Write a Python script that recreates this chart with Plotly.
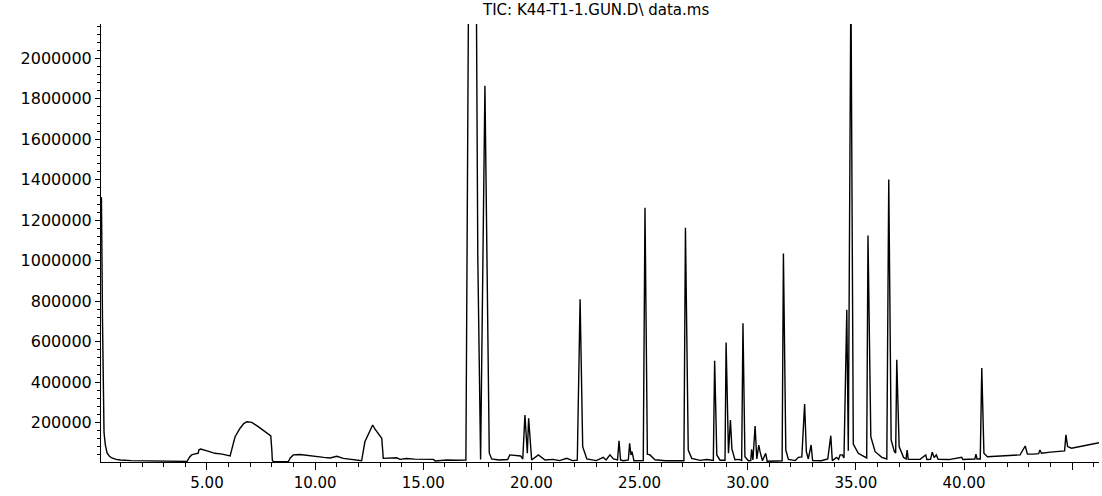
import plotly.graph_objects as go

# Retention time (min) and abundance
time_min = [
    0.10, 0.12, 0.17, 0.21, 0.24, 0.30, 0.38, 0.48, 0.60, 0.80, 1.00, 1.50, 2.00, 2.50, 3.00, 3.50, 4.00,
    4.08, 4.20, 4.29, 4.45, 4.59, 4.63, 4.71, 5.00, 5.37, 5.70, 5.91, 6.07, 6.20, 6.30, 6.53, 6.70, 6.84,
    7.07, 7.37, 7.70, 7.95, 8.00, 8.02, 8.07, 8.50, 8.76, 8.85, 8.99, 9.30, 9.76, 10.06, 10.40, 10.69,
    11.00, 11.30, 11.70, 12.08, 12.15, 12.30, 12.54, 12.66, 12.77, 12.90, 13.08, 13.15, 13.46, 13.77,
    13.92, 14.23, 14.60, 15.00, 15.47, 15.55, 16.08, 16.50, 16.93,
    16.97, 17.09, 17.28, 17.46, 17.52, 17.65, 17.85, 18.05, 18.16, 18.50, 18.90, 19.00, 19.30, 19.50,
    19.60, 19.70, 19.81, 19.87, 20.01, 20.32, 20.63, 21.00, 21.30, 21.63, 21.90, 22.12, 22.25, 22.37,
    22.56, 23.00, 23.32, 23.45, 23.63, 23.79, 23.98, 24.05, 24.12, 24.25, 24.48, 24.54, 24.60, 24.65,
    24.74, 25.00, 25.17, 25.25, 25.36, 25.48, 25.71, 26.20, 26.60, 27.05, 27.12, 27.25, 27.41, 27.80,
    28.10, 28.41, 28.47, 28.57, 28.72, 28.95, 29.00, 29.11, 29.20, 29.27, 29.41, 29.60, 29.72, 29.78,
    29.87, 30.03, 30.14, 30.18, 30.24, 30.34, 30.42, 30.51, 30.57, 30.68, 30.83, 30.90, 31.30, 31.59,
    31.65, 31.76, 31.88, 32.20, 32.34, 32.50, 32.63, 32.71, 32.80, 32.93, 33.00, 33.40, 33.70, 33.84,
    33.91, 34.11, 34.20, 34.27, 34.37, 34.45, 34.58, 34.65, 34.77, 34.88, 35.11, 35.42, 35.50, 35.56,
    35.69, 35.89, 36.20, 36.43, 36.52, 36.63, 36.78, 36.84, 36.89, 37.00, 37.20, 37.32, 37.37, 37.42,
    37.97, 38.23, 38.28, 38.45, 38.53, 38.62, 38.72, 38.80, 39.30, 39.89, 39.95, 40.50, 40.55, 40.60,
    40.75, 40.82, 40.92, 41.08, 41.66, 42.20, 42.59, 42.83, 42.93, 43.20, 43.45, 43.51, 43.58, 44.00,
    44.44, 44.65, 44.71, 44.79, 44.97, 45.30, 45.67, 46.00, 46.24,
]
abundance = [
    1310000, 1310000, 700000, 300000, 150000, 90000, 50000, 35000, 25000, 18000, 15000, 12000, 11000, 10000, 9000, 8000, 7000,
    8000, 30000, 40000, 45000, 48000, 65000, 69000, 60000, 48000, 44000, 41000, 35000, 90000, 130000, 172000, 195000, 204000,
    201000, 180000, 155000, 134000, 60000, 15000, 6000, 5500, 6000, 25000, 40000, 42000, 35000, 33000, 28000, 25000,
    33000, 23000, 16000, 10000, 11000, 105000, 163000, 188000, 167000, 150000, 122000, 23000, 23000, 26000,
    18000, 22000, 19000, 18000, 18000, 10000, 15000, 14000, 15000,
    15000, 2300000, 3200000, 2200000, 1020000, 18000, 1865000, 50000, 20000, 15000, 17000, 40000, 38000, 35000,
    20000, 237000, 48000, 221000, 15000, 40000, 15000, 18000, 12000, 23000, 12000, 14000, 810000, 81000,
    20000, 12000, 28000, 15000, 40000, 20000, 15000, 110000, 15000, 11000, 15000, 97000, 40000, 56000,
    11000, 12000, 12000, 1262000, 44000, 40000, 16000, 11000, 12000, 11000, 1163000, 64000, 23000, 13000,
    17000, 13000, 505000, 40000, 14000, 14000, 596000, 48000, 213000, 68000, 16000, 18000, 13000, 691000,
    31000, 11000, 12000, 68000, 15000, 183000, 20000, 89000, 56000, 11000, 48000, 9000, 10000, 11000,
    1035000, 64000, 18000, 12000, 28000, 30000, 292000, 56000, 20000, 89000, 12000, 11000, 20000, 135000,
    12000, 28000, 18000, 40000, 40000, 25000, 757000, 60000, 2400000, 94000, 48000, 28000, 25000, 1124000,
    130000, 56000, 28000, 20000, 1401000, 114000, 56000, 50000, 510000, 81000, 28000, 20000, 64000, 18000,
    18000, 40000, 17000, 18000, 53000, 27000, 40000, 18000, 17000, 28000, 17000, 20000, 44000, 20000,
    20000, 469000, 48000, 31000, 34000, 37000, 40000, 84000, 44000, 44000, 46000, 64000, 48000, 54000,
    59000, 60000, 139000, 81000, 73000, 80000, 89000, 95000, 100000,
]

x_tick_values = [5, 10, 15, 20, 25, 30, 35, 40, 45]
x_tick_labels = ["5.00", "10.00", "15.00", "20.00", "25.00", "30.00", "35.00", "40.00", ""]
y_tick_values = [200000, 400000, 600000, 800000, 1000000, 1200000, 1400000,
                 1600000, 1800000, 2000000]
y_tick_labels = ["200000", "400000", "600000", "800000", "1000000", "1200000", "1400000",
                 "1600000", "1800000", "2000000"]
title_text = "TIC: K44-T1-1.GUN.D\\ data.ms"

fig = go.Figure(
    go.Scatter(
        x=time_min,
        y=abundance,
        mode="lines",
        line=dict(color="black", width=1.4),
        hoverinfo="skip",
    )
)

fig.update_layout(
    width=1102,
    height=496,
    autosize=False,
    margin=dict(l=101, r=3, t=24, b=34, pad=0),
    paper_bgcolor="white",
    plot_bgcolor="white",
    showlegend=False,
    font=dict(family="DejaVu Sans", color="black"),
)

fig.update_xaxes(
    range=[0.1, 46.24],
    showline=True, linecolor="black", linewidth=1,
    showgrid=False, zeroline=False,
    ticks="outside", ticklen=7, tickwidth=1, tickcolor="black",
    tickmode="array", tickvals=x_tick_values, ticktext=x_tick_labels,
    tickfont=dict(size=15, family="DejaVu Sans", color="black"),
    minor=dict(dtick=1, tick0=0, ticks="outside", ticklen=4, tickwidth=1,
               tickcolor="black", showgrid=False),
)

fig.update_yaxes(
    range=[5000, 2170000],
    showline=True, linecolor="black", linewidth=1,
    showgrid=False, zeroline=False,
    ticks="outside", ticklen=5, tickwidth=1, tickcolor="black",
    tickmode="array", tickvals=y_tick_values, ticktext=y_tick_labels,
    tickfont=dict(size=16, family="DejaVu Sans", color="black"),
    minor=dict(dtick=40000, tick0=0, ticks="outside", ticklen=3, tickwidth=1,
               tickcolor="black", showgrid=False),
)

fig.add_annotation(
    text=title_text,
    xref="paper", yref="paper",
    x=0.495, y=1.0, xanchor="center", yanchor="middle",
    yshift=14.5,
    showarrow=False,
    font=dict(size=15, family="DejaVu Sans", color="black"),
)

fig.write_html("out.html", include_plotlyjs=True,
               config={"displayModeBar": False},
               post_script="document.body.style.margin='0';")
